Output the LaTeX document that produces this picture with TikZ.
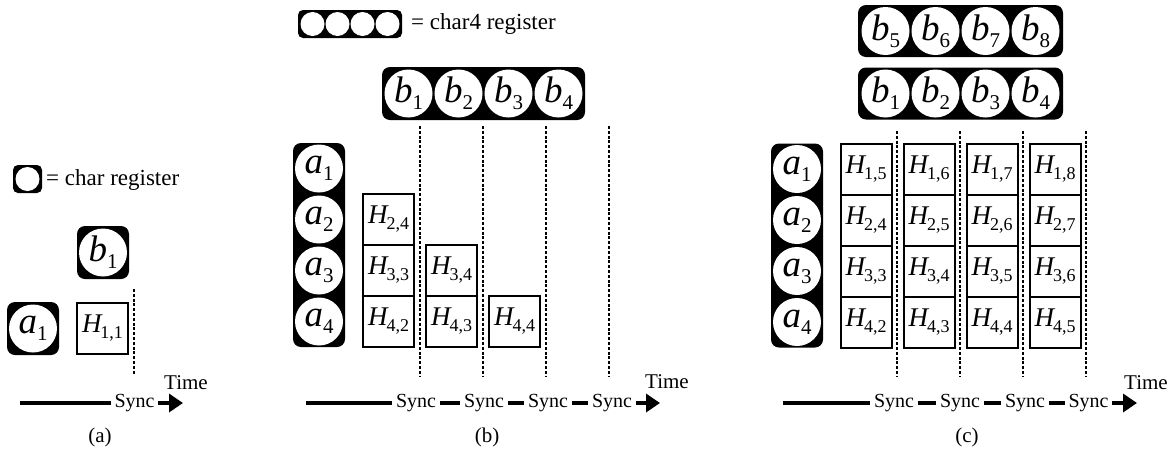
\documentclass[tikz,border=0pt]{standalone}
\usepackage{fontspec}
\setmainfont{Liberation Serif}
\usetikzlibrary{arrows.meta}
\newcommand\fsz[1]{\fontsize{#1}{#1}\selectfont}
\newcommand\rv[2]{{\fsz{37}\itshape #1}\raisebox{-7pt}{\fsz{21}#2}}
\newcommand\hv[1]{{\fsz{27}\itshape H}\kern-1pt\raisebox{-6pt}{\fsz{18}#1}}
\tikzset{
  regframe/.style={rectangle, fill=black, rounded corners=8pt, inner sep=0pt, draw=none},
  regcirc/.style={circle, fill=white, inner sep=0pt, minimum size=48pt},
  legcirc/.style={circle, fill=white, inner sep=0pt, minimum size=24pt},
  hbox/.style={rectangle, draw=black, line width=2pt, fill=white, minimum width=51pt, minimum height=51pt, inner sep=0pt},
  syncline/.style={dash pattern=on 3pt off 1.8pt, line width=1.8pt},
  axisline/.style={line width=4.5pt},
  axisarrow/.style={line width=4.5pt, -{Triangle[length=14pt, width=18pt]}},
  lbl/.style={font=\fsz{21}, inner sep=0pt},
  leglbl/.style={font=\fsz{23}, inner sep=0pt, anchor=west},
  syncnode/.style={font=\fsz{20}, inner xsep=3.5pt, inner ysep=0pt},
}
\begin{document}
\begin{tikzpicture}[x=1pt, y=-1pt]
\useasboundingbox (0,0) rectangle (1167,456);

%%%%%%%%%%%%%%%% panel (a)
\node[regframe, minimum width=29pt, minimum height=28pt, rounded corners=5pt] (aLeg) at (27.5,179) {};
\node[legcirc] (aLegC) at (aLeg.center) {};
\node[leglbl] (aLegT) at (46,180) {= char register};

\node[regframe, minimum width=52pt, minimum height=53pt] (aRegB) at (103,252.5) {};
\node[regcirc] (aB1) at (aRegB.center) {\rv{b}{1}};
\node[regframe, minimum width=52pt, minimum height=53pt] (aRegA) at (33,328.5) {};
\node[regcirc] (aA1) at (aRegA.center) {\rv{a}{1}};
\node[hbox] (aH11) at (102.5,328.5) {\hv{1,1}};

\draw[syncline] (134,289) -- (134,375);
\node[lbl] (aTime) at (186,383) {Time};
\coordinate (aStart) at (20,403);
\node[syncnode] (aS1) at (134.5,403) {Sync};
\coordinate (aEnd) at (183,403);
\draw[axisline] (aStart) -- (aS1.west);
\draw[axisarrow] (aS1.east) -- (aEnd);
\node[lbl] (aCap) at (100,437) {(a)};

%%%%%%%%%%%%%%%% panel (b)
\node[regframe, minimum width=104pt, minimum height=28pt, rounded corners=5pt] (bLeg) at (350,24) {};
\foreach \i/\dx in {1/-37.5,2/-12.5,3/12.5,4/37.5}
  \node[legcirc] (bLegC\i) at ([xshift=\dx pt]bLeg.center) {};
\node[leglbl] (bLegT) at (411,24) {= char4 register};

\node[regframe, minimum width=203pt, minimum height=53pt] (bRegB) at (483.5,93.5) {};
\foreach \i/\dx in {1/-75,2/-25,3/25,4/75}
  \node[regcirc] (bB\i) at ([xshift=\dx pt]bRegB.center) {\rv{b}{\i}};

\node[regframe, minimum width=52pt, minimum height=204pt] (bRegA) at (319,245) {};
\foreach \i/\dy in {1/-76.5,2/-25.5,3/25.5,4/76.5}
  \node[regcirc] (bA\i) at ([yshift=-\dy pt]bRegA.center) {\rv{a}{\i}};

\node[hbox] (bH24) at (388.5,219.5) {\hv{2,4}};
\node[hbox] (bH33) at (388.5,270.5) {\hv{3,3}};
\node[hbox] (bH42) at (388.5,321.5) {\hv{4,2}};
\node[hbox] (bH34) at (451.5,270.5) {\hv{3,4}};
\node[hbox] (bH43) at (451.5,321.5) {\hv{4,3}};
\node[hbox] (bH44) at (514.5,321.5) {\hv{4,4}};

\foreach \x in {420,483,546,609}
  \draw[syncline] (\x,126) -- (\x,376);
\node[lbl] (bTime) at (667,382) {Time};
\coordinate (bStart) at (306,403);
\node[syncnode] (bS1) at (416,403) {Sync};
\node[syncnode] (bS2) at (484,403) {Sync};
\node[syncnode] (bS3) at (548,403) {Sync};
\node[syncnode] (bS4) at (612,403) {Sync};
\coordinate (bEnd) at (660,403);
\draw[axisline] (bStart) -- (bS1.west);
\draw[axisline] (bS1.east) -- (bS2.west);
\draw[axisline] (bS2.east) -- (bS3.west);
\draw[axisline] (bS3.east) -- (bS4.west);
\draw[axisarrow] (bS4.east) -- (bEnd);
\node[lbl] (bCap) at (487,437) {(b)};

%%%%%%%%%%%%%%%% panel (c)
\node[regframe, minimum width=205pt, minimum height=52pt] (cRegB2) at (960.5,31) {};
\foreach \i/\dx in {5/-75,6/-25,7/25,8/75}
  \node[regcirc] (cB\i) at ([xshift=\dx pt]cRegB2.center) {\rv{b}{\i}};
\node[regframe, minimum width=205pt, minimum height=52pt] (cRegB1) at (960.5,93.5) {};
\foreach \i/\dx in {1/-75,2/-25,3/25,4/75}
  \node[regcirc] (cB\i) at ([xshift=\dx pt]cRegB1.center) {\rv{b}{\i}};

\node[regframe, minimum width=52pt, minimum height=204pt] (cRegA) at (797,245.5) {};
\foreach \i/\dy in {1/-76.5,2/-25.5,3/25.5,4/76.5}
  \node[regcirc] (cA\i) at ([yshift=-\dy pt]cRegA.center) {\rv{a}{\i}};

\foreach \c/\x in {1/866,2/929,3/992,4/1055}{
  \foreach \r/\y in {1/169,2/220,3/271,4/322}{
    \pgfmathtruncatemacro{\k}{5+\c-\r}
    \node[hbox] (cH\r\c) at (\x,\y) {\hv{\r,\k}};
  }
}

\foreach \x in {897,960,1023,1086}
  \draw[syncline] (\x,131) -- (\x,376);
\node[lbl] (cTime) at (1146,383) {Time};
\coordinate (cStart) at (783,403);
\node[syncnode] (cS1) at (894,403) {Sync};
\node[syncnode] (cS2) at (960,403) {Sync};
\node[syncnode] (cS3) at (1025,403) {Sync};
\node[syncnode] (cS4) at (1088.5,403) {Sync};
\coordinate (cEnd) at (1137,403);
\draw[axisline] (cStart) -- (cS1.west);
\draw[axisline] (cS1.east) -- (cS2.west);
\draw[axisline] (cS2.east) -- (cS3.west);
\draw[axisline] (cS3.east) -- (cS4.west);
\draw[axisarrow] (cS4.east) -- (cEnd);
\node[lbl] (cCap) at (967,437) {(c)};
\end{tikzpicture}
\end{document}
